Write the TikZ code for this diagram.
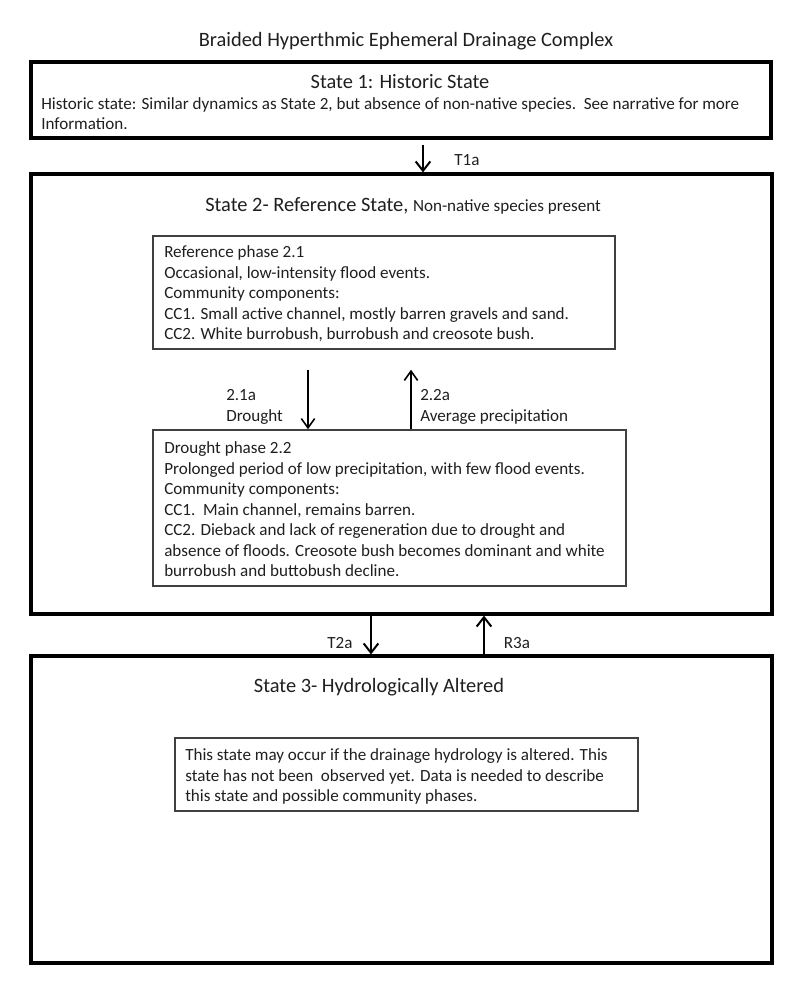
\documentclass[tikz,border=0pt]{standalone}
\usepackage{fontspec}
\setmainfont{Carlito}
\usetikzlibrary{arrows.meta}
\begin{document}
\begin{tikzpicture}[x=0.75pt,y=-0.75pt]
\tikzset{
 statebox/.style={draw=black, line width=2.4pt, inner sep=0pt},
 phasebox/.style={draw=black!75, line width=1.1pt, inner sep=0pt},
 body/.style={font=\fontsize{12.8}{15.4}\selectfont, text=black!88, inner sep=0pt, align=left},
 big/.style={font=\fontsize{15.3}{18}\selectfont, text=black!88, inner sep=0pt},
 trans/.style={line width=1.5pt, -{Straight Barb[length=7pt,width=11pt]}},
 ptrans/.style={line width=1.2pt, -{Straight Barb[length=7pt,width=10pt]}},
}
\useasboundingbox (0,0) rectangle (800,984);

\node[big] (title) at (406,41) {Braided Hyperthmic Ephemeral Drainage Complex};

% State 1
\node[statebox, minimum width=555pt, minimum height=57pt] (s1) at (401,100) {};
\node[big] (s1t) at (400,82) {State 1: Historic State};
\node[body, anchor=west] (s1b) at (41,113.5) {Historic state: Similar dynamics as State 2, but absence of non-native species.\ \ See narrative for more\\Information.};

% State 2
\node[statebox, minimum width=555.75pt, minimum height=330pt] (s2) at (401.5,394) {};
\node[big, anchor=base west] (s2t) at (205,212) {State 2- Reference State, {\fontsize{12.8}{15.4}\selectfont Non-native species present}};

\node[phasebox, minimum width=346.5pt, minimum height=84.75pt] (p1) at (384,292.5) {};
\node[body, anchor=west] (p1b) at (164,294) {Reference phase 2.1\\Occasional, low-intensity flood events.\\Community components:\\CC1. Small active channel, mostly barren gravels and sand.\\CC2. White burrobush, burrobush and creosote bush.};

\node[phasebox, minimum width=354.75pt, minimum height=117pt] (p2) at (389.5,508) {};
\node[body, anchor=west] (p2b) at (164,509.5) {Drought phase 2.2\\Prolonged period of low precipitation, with few flood events.\\Community components:\\CC1.\ \ Main channel, remains barren.\\CC2. Dieback and lack of regeneration due to drought and\\absence of floods. Creosote bush becomes dominant and white\\burrobush and buttobush decline.};

\coordinate (a21) at (308,0);
\coordinate (a22) at (411,0);
\draw[ptrans, shorten <=15pt] (a21 |- p1.south) -- (a21 |- p2.north);
\draw[ptrans, shorten >=15pt] (a22 |- p2.north) -- (a22 |- p1.south);
\node[body, anchor=west] (l21) at (226,407) {2.1a\\Drought};
\node[body, anchor=west] (l22) at (420,407) {2.2a\\Average precipitation};

% State 3
\node[statebox, minimum width=555.75pt, minimum height=230.25pt] (s3) at (401.5,809.5) {};
\node[big] (s3t) at (379,687) {State 3- Hydrologically Altered};
\node[phasebox, minimum width=347.25pt, minimum height=54.75pt] (i3) at (406.5,774.5) {};
\node[body, anchor=west] (i3b) at (185,776.5) {This state may occur if the drainage hydrology is altered. This\\state has not been\ \ observed yet. Data is needed to describe\\this state and possible community phases.};

% transitions between states
\coordinate (t1) at (423,0);
\coordinate (t2) at (371,0);
\coordinate (r3) at (484,0);
\draw[trans, shorten <=3.75pt] (t1 |- s1.south) -- (t1 |- s2.north);
\node[body] (t1l) at (467,160) {T1a};
\draw[trans] (t2 |- s2.south) -- (t2 |- s3.north);
\draw[trans] (r3 |- s3.north) -- (r3 |- s2.south);
\node[body] (t2l) at (340,643) {T2a};
\node[body] (r3l) at (517,643) {R3a};
\end{tikzpicture}
\end{document}
